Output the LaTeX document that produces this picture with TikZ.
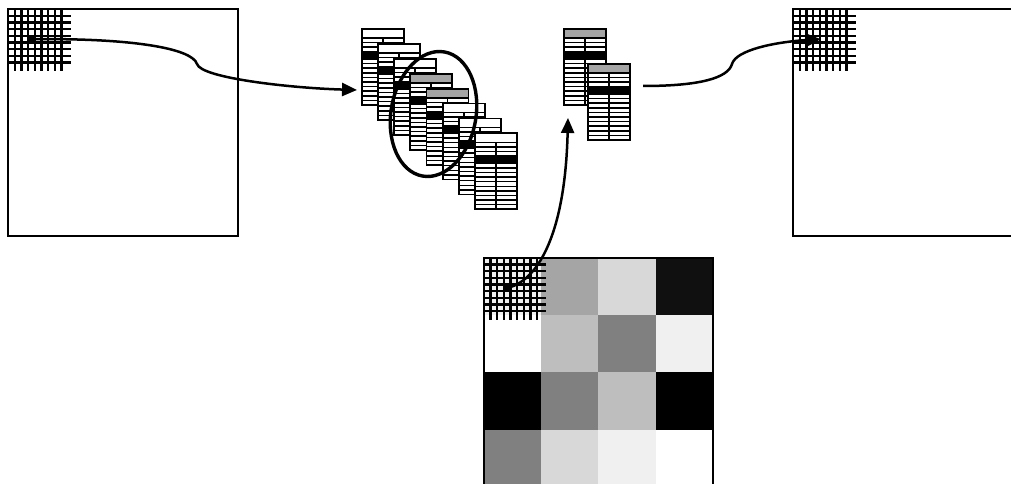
\documentclass[tikz,border=0pt]{standalone}
\usetikzlibrary{arrows.meta,shapes.geometric}
\definecolor{hgray}{RGB}{165,165,165}
\definecolor{g240}{gray}{0.94}
\definecolor{g216}{gray}{0.847}
\definecolor{g190}{gray}{0.745}
\definecolor{g165}{gray}{0.647}
\definecolor{g128}{gray}{0.5}
\definecolor{g16}{gray}{0.063}
\tikzset{
  frame/.style={draw=black, line width=1.9pt, anchor=north west, inner sep=0pt, outer sep=0pt},
  gridline/.style={line width=2.3pt},
  conn/.style={line width=2.5pt, -{Triangle[length=15pt,width=13pt]}},
  tline/.style={line width=1.5pt},
  ring/.style={draw, ellipse, line width=3.4pt, minimum width=85pt, minimum height=126pt, inner sep=0pt, rotate=-10},
  gridpic/.pic={
    \foreach \i in {0,...,8} {
      \draw[gridline] (\i*6.7,0) -- (\i*6.7,62.5);
      \draw[gridline] (0,\i*6.7) -- (62.5,\i*6.7);
    }
    \coordinate (-dot) at (23.5,30.2);
  }
}
\newcommand\mytbl[3]{%
  \begin{scope}[shift={(#1,#2)}]
    \fill[white] (0,0) rectangle (42,76);
    \fill[#3] (0,0) rectangle (42,9);
    \fill[black] (0,22.5) rectangle (42,30);
    \foreach \yy in {9,13.5,18,22.5,30,34.6,39.2,43.8,48.4,53,57.6,62.2,66.8,71.4}
      \draw[tline] (0,\yy) -- (42,\yy);
    \draw[tline] (21,9) -- (21,76);
    \draw[line width=1.9pt] (0,0) rectangle (42,76);
  \end{scope}}
\begin{document}
\begin{tikzpicture}[x=1pt,y=-1pt]
\useasboundingbox (0,0) rectangle (1011,484);
% left image
\node[frame, minimum width=230pt, minimum height=227pt] (leftbox) at (8,9) {};
\pic (gl) at (8,9) {gridpic};
\fill ([shift={(-3.6,-3.6)}]gl-dot) rectangle ++(7.2,7.2);
% right image (cut off by the picture edge)
\node[frame, minimum width=240pt, minimum height=227pt] (rightbox) at (793,9) {};
\pic (gr) at (793,9) {gridpic};
% bottom grey image
\foreach \cx/\cy/\cc in {0/0/g240, 1/0/g165, 2/0/g216, 3/0/g16,
                         0/1/white, 1/1/g190, 2/1/g128, 3/1/g240,
                         0/2/black, 1/2/g128, 2/2/g190, 3/2/black,
                         0/3/g128, 1/3/g216, 2/3/g240, 3/3/white}
  \fill[\cc] (483.7+\cx*57.3, 257.7+\cy*57.3) rectangle ++(57.3,57.3);
\node[frame, minimum width=229.3pt, minimum height=232pt] (botbox) at (483.7,257.7) {};
\pic (gb) at (483.7,257.7) {gridpic};
\fill ([shift={(-3.6,-3.6)}]gb-dot) rectangle ++(7.2,7.2);
% stack of tables
\mytbl{362}{29}{white}
\mytbl{378}{44}{white}
\mytbl{394}{59}{white}
\mytbl{410}{74}{hgray}
\mytbl{426.5}{89}{hgray}
\mytbl{443}{103.5}{white}
\mytbl{459}{118.5}{white}
\mytbl{475}{133.3}{white}
\node[ring] (ell) at (433.5,114) {};
% selected tables
\mytbl{564}{29}{hgray}
\mytbl{588}{64}{hgray}
% connectors
\coordinate (a1end) at (357,90);
\coordinate (a2start) at (643,86);
\coordinate (a3end) at (568,118);
\draw[conn] (gl-dot) .. controls (130,38) and (192,48) .. (197,64)
            .. controls (201,78) and (290,88) .. (a1end);
\draw[conn] (a2start) .. controls (700,86) and (728,78) .. (732,64)
            .. controls (736,50) and (775,42) .. ([xshift=4.5pt]gr-dot);
\draw[conn] (gb-dot) .. controls (535,282) and (565,240) .. (a3end);
\end{tikzpicture}
\end{document}
